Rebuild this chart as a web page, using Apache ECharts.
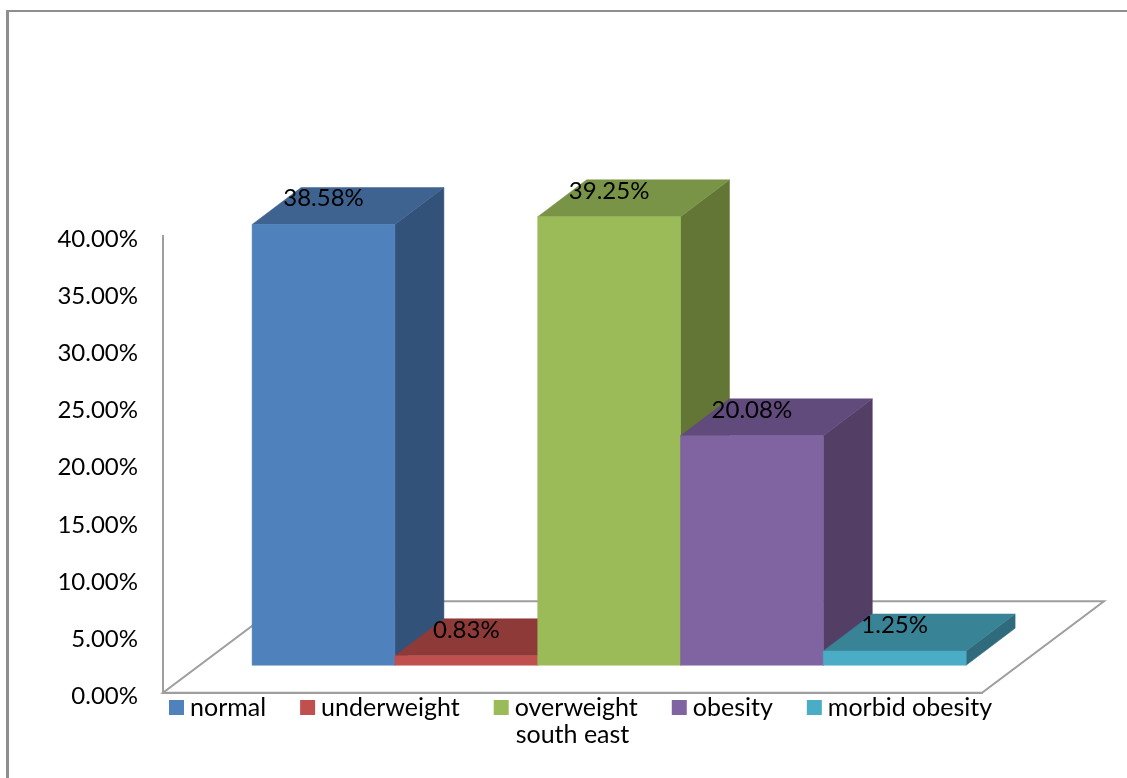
<!DOCTYPE html>
<html>
<head>
<meta charset="utf-8">
<style>html,body{margin:0;padding:0;background:#fff}#c{width:1127px;height:778px}</style>
<script src="https://cdn.jsdelivr.net/npm/echarts@6/dist/echarts.min.js"></script>
</head>
<body>
<div id="c"></div>
<script>
// Body-mass categories for the south east region (percent of respondents)
const categories = ['south east'];
const seriesNames = ['normal', 'underweight', 'overweight', 'obesity', 'morbid obesity'];
const normal = [38.58];
const underweight = [0.83];
const overweight = [39.25];
const obesity = [20.08];
const morbidObesity = [1.25];
const seriesValues = [normal, underweight, overweight, obesity, morbidObesity];

const frontColors = ['#4F81BD', '#C0504D', '#9BBB59', '#8064A2', '#4BACC6'];
const topColors = ['#3F6391', '#8E3A38', '#7A9447', '#614A7C', '#398396'];
const sideColors = ['#335279', '#76302E', '#647636', '#533E66', '#2F6B7C'];

// Oblique projection of the floor: full depth and the plane the bars stand on
const DEPTH = [122, -91.5];
const BAR_PLANE = 0.3;
const BAR_DEPTH = [49, -37];
const BAR_SHARE = 142.8 / 819;
const FLOOR_STROKE = '#9E9E9E';
const FONT = 'Lato';

const poly = (points, fill, z2) => ({
  type: 'polygon',
  z2: z2 || 0,
  shape: { points },
  style: { fill, stroke: fill, lineWidth: 0.5 }
});

// Floor parallelogram, spanning the category band
function renderFloor(params, api) {
  const band = api.size([1, 0])[0];
  const c = api.coord([0, 0]);
  const l = c[0] - band / 2, r = c[0] + band / 2, y = c[1];
  return {
    type: 'polygon',
    shape: { points: [[l, y], [r, y], [r + DEPTH[0], y + DEPTH[1]], [l + DEPTH[0], y + DEPTH[1]]] },
    style: { fill: '#fff', stroke: FLOOR_STROKE, lineWidth: 2 }
  };
}

// One cuboid: front, top and side faces plus the value label above the front edge
function makeRenderer(i) {
  return function (params, api) {
    const v = api.value(1);
    const band = api.size([1, 0])[0];
    const w = band * BAR_SHARE;
    const base = api.coord([0, 0]);
    const top = api.coord([0, v]);
    const ox = DEPTH[0] * BAR_PLANE, oy = DEPTH[1] * BAR_PLANE;
    const x0 = base[0] + ox + (i - 2.5) * w, x1 = x0 + w;
    const y0 = base[1] + oy, y1 = top[1] + oy;
    const dx = BAR_DEPTH[0], dy = BAR_DEPTH[1];
    return {
      type: 'group',
      children: [
        poly([[x1, y0], [x1 + dx, y0 + dy], [x1 + dx, y1 + dy], [x1, y1]], sideColors[i]),
        poly([[x0, y1], [x1, y1], [x1 + dx, y1 + dy], [x0 + dx, y1 + dy]], topColors[i]),
        poly([[x0, y0], [x1, y0], [x1, y1], [x0, y1]], frontColors[i]),
        {
          type: 'text',
          z2: 100,
          style: {
            x: (x0 + x1) / 2, y: y1 - 26,
            text: v.toFixed(2) + '%',
            font: '24px ' + FONT, fill: '#000',
            align: 'center', verticalAlign: 'middle'
          }
        }
      ]
    };
  };
}

const floorSeries = {
  type: 'custom',
  silent: true,
  renderItem: renderFloor,
  data: [[0, 0]],
  encode: { x: 0, y: 1 },
  clip: false
};

const barSeries = seriesNames.map((name, i) => ({
  name,
  type: 'custom',
  renderItem: makeRenderer(i),
  itemStyle: { color: frontColors[i] },
  data: seriesValues[i].map((v, k) => [k, v]),
  encode: { x: 0, y: 1 },
  clip: false
}));

const chart = echarts.init(document.getElementById('c'), null, { renderer: 'canvas' });
chart.setOption({
  animation: false,
  backgroundColor: '#fff',
  grid: { left: 163, top: 235.7, width: 819, height: 457, containLabel: false },
  xAxis: {
    type: 'category',
    data: categories,
    axisTick: { show: false },
    axisLine: { lineStyle: { color: FLOOR_STROKE, width: 2 } },
    axisLabel: { color: '#000', fontFamily: FONT, fontSize: 25, margin: 30 }
  },
  yAxis: {
    type: 'value',
    min: 0,
    max: 40,
    interval: 5,
    splitLine: { show: false },
    axisTick: { show: false },
    axisLine: { show: true, lineStyle: { color: FLOOR_STROKE, width: 2 } },
    axisLabel: {
      color: '#000', fontFamily: FONT, fontSize: 24, margin: 25,
      verticalAlign: 'top', lineHeight: 7,
      formatter: v => v.toFixed(2) + '%'
    }
  },
  legend: {
    data: seriesNames,
    left: 164,
    top: 690,
    icon: 'rect',
    itemWidth: 15,
    itemHeight: 15,
    itemGap: 34,
    textStyle: { color: '#000', fontFamily: FONT, fontSize: 25, padding: [0, 0, 0, 1] }
  },
  // Frame around the chart area: top and left edges
  graphic: [
    { type: 'rect', shape: { x: 6, y: 10, width: 1121, height: 2 }, style: { fill: '#8E8E8E' } },
    { type: 'rect', shape: { x: 6, y: 10, width: 3, height: 768 }, style: { fill: '#8E8E8E' } }
  ],
  series: [floorSeries].concat(barSeries)
});
</script>
</body>
</html>
